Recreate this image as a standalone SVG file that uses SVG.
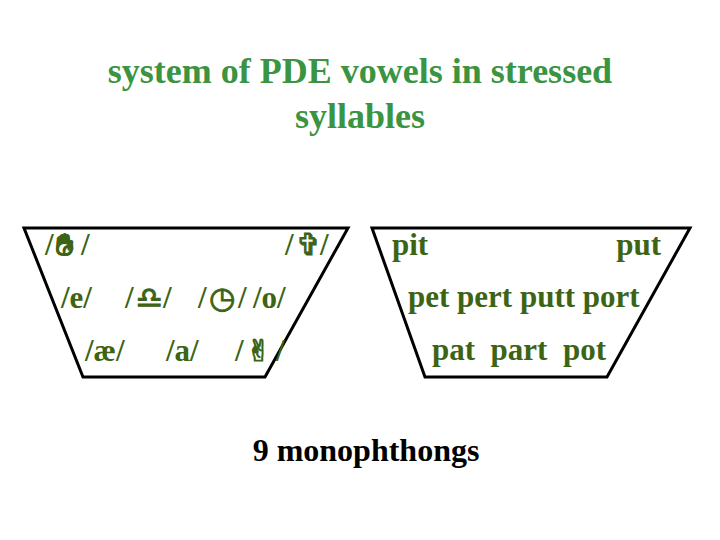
<svg xmlns="http://www.w3.org/2000/svg" width="720" height="540" viewBox="0 0 720 540">
<style>
.title{font-family:"Liberation Serif","Times New Roman",serif;font-weight:bold;font-size:36px;fill:#3a9441;text-anchor:middle}
.v{font-family:"Liberation Serif","Times New Roman",serif;font-weight:bold;font-size:31px;fill:#3c6414}
.sym{font-family:"DejaVu Sans","Noto Sans",sans-serif;font-weight:bold;font-size:30px;fill:#3c6414;stroke:#3c6414;stroke-width:1}
.foot{font-family:"Liberation Serif","Times New Roman",serif;font-weight:bold;font-size:32px;fill:#000;text-anchor:middle}
.trap{fill:none;stroke:#000;stroke-width:3;stroke-linejoin:miter}
</style>
<rect width="720" height="540" fill="#fff"/>
<g id="title">
<text class="title" x="360" y="83">system of PDE vowels in stressed</text>
<text class="title" x="360" y="128">syllables</text>
</g>
<g id="vowel-chart">
<polygon class="trap" points="24,228 348,228 265,377 83,377"/>
<text class="v" x="45" y="255">/<tspan class="sym" x="56">✋︎</tspan><tspan x="81">/</tspan></text>
<text class="v" x="285" y="255">/<tspan class="sym" x="296">✞</tspan><tspan x="320">/</tspan></text>
<text class="v" x="61" y="308">/e/</text>
<text class="v" x="125" y="308">/<tspan class="sym" x="136">♎</tspan><tspan x="163">/</tspan></text>
<text class="v" x="198" y="308">/<tspan class="sym" x="209">◷</tspan><tspan x="238">/</tspan><tspan x="253">/o/</tspan></text>
<text class="v" x="85" y="361">/æ/</text>
<text class="v" x="166" y="361">/a/</text>
<text class="v" x="235" y="361">/<tspan class="sym" x="246">✌</tspan><tspan x="276">/</tspan></text>
</g>
<g id="word-chart">
<polygon class="trap" points="372,228 690,228 607,377 425,377"/>
<text class="v" x="392" y="255">pit</text>
<text class="v" x="661" y="255" text-anchor="end">put</text>
<text class="v" x="408" y="307">pet pert putt port</text>
<text class="v" x="432" y="360" xml:space="preserve">pat  part  pot</text>
</g>
<g id="footer">
<text class="foot" x="366" y="461">9 monophthongs</text>
</g>
</svg>
